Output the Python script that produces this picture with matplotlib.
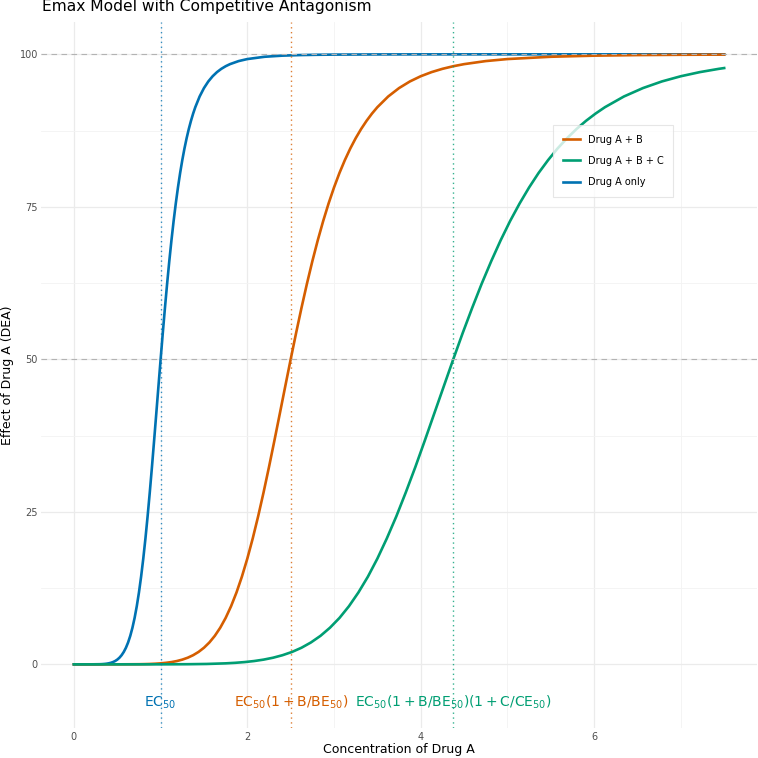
import matplotlib
matplotlib.use("Agg")
import matplotlib.pyplot as plt
from matplotlib.lines import Line2D

plt.rcParams['font.family'] = ['DejaVu Sans']
plt.rcParams['mathtext.fontset'] = 'dejavusans'

# ---- data ----
conc_a = [0, 0.2,
          0.3, 0.325, 0.35, 0.375, 0.4, 0.425, 0.45, 0.475, 0.5, 0.525, 0.55, 0.575, 0.6, 0.625,
          0.65, 0.675, 0.7, 0.725, 0.75, 0.775, 0.8, 0.825, 0.85, 0.875, 0.9, 0.925, 0.95, 0.975,
          1.0, 1.025, 1.05, 1.075, 1.1, 1.125, 1.15, 1.175, 1.2, 1.225, 1.25, 1.275, 1.3, 1.325,
          1.35, 1.375, 1.4,
          1.45, 1.5, 1.55, 1.6, 1.65, 1.7, 1.75, 1.8,
          1.9, 2.0, 2.2, 2.4, 2.6, 2.8, 3.0, 3.5, 4.0, 5.0, 6.0, 7.5]
effect_a = [0, 0.001,
            0.022, 0.038, 0.064, 0.104, 0.164, 0.250, 0.372, 0.542, 0.775, 1.087, 1.500, 2.036, 2.723, 3.591,
            4.673, 6.001, 7.609, 9.527, 11.776, 14.379, 17.336, 20.644, 24.276, 28.197, 32.354, 36.686, 41.119, 45.581,
            50.0, 54.312, 58.455, 62.392, 66.087, 69.518, 72.677, 75.563, 78.179, 80.544, 82.662, 84.563, 86.254, 87.760,
            89.094, 90.284, 91.336,
            93.092, 94.468, 95.554, 96.409, 97.085, 97.622, 98.049, 98.392,
            98.894, 99.225, 99.601, 99.782, 99.876, 99.926, 99.954, 99.984, 99.994, 99.999, 100, 100]

conc_ab = [0, 0.5,
           0.75, 0.8125, 0.875, 0.9375, 1.0, 1.0625, 1.125, 1.1875, 1.25, 1.3125, 1.375, 1.4375, 1.5, 1.5625,
           1.625, 1.6875, 1.75, 1.8125, 1.875, 1.9375, 2.0, 2.0625, 2.125, 2.1875, 2.25, 2.3125, 2.375, 2.4375,
           2.5, 2.5625, 2.625, 2.6875, 2.75, 2.8125, 2.875, 2.9375, 3.0, 3.0625, 3.125, 3.1875, 3.25, 3.3125,
           3.375, 3.4375, 3.5,
           3.625, 3.75, 3.875, 4.0, 4.125, 4.25, 4.375, 4.5,
           4.75, 5.0, 5.5, 6.0, 6.5, 7.0, 7.5]
effect_ab = [0, 0.001,
             0.022, 0.038, 0.064, 0.104, 0.164, 0.250, 0.372, 0.542, 0.775, 1.087, 1.500, 2.036, 2.723, 3.591,
             4.673, 6.001, 7.609, 9.527, 11.776, 14.379, 17.336, 20.644, 24.276, 28.197, 32.354, 36.686, 41.119, 45.581,
             50.0, 54.312, 58.455, 62.392, 66.087, 69.518, 72.677, 75.563, 78.179, 80.544, 82.662, 84.563, 86.254, 87.760,
             89.094, 90.284, 91.336,
             93.092, 94.468, 95.554, 96.409, 97.085, 97.622, 98.049, 98.392,
             98.894, 99.225, 99.601, 99.782, 99.876, 99.926, 99.954]

conc_abc = [0, 1.0, 1.3125, 1.53125,
            1.75, 1.859, 1.969, 2.078, 2.188, 2.297, 2.406, 2.516, 2.625, 2.734, 2.844, 2.953, 3.063, 3.172,
            3.281, 3.391, 3.5, 3.609, 3.719, 3.828, 3.938, 4.047, 4.156, 4.266, 4.375, 4.484, 4.594, 4.703,
            4.813, 4.922, 5.031, 5.141, 5.25, 5.359, 5.469, 5.578, 5.688, 5.797, 5.906, 6.016, 6.125,
            6.344, 6.563, 6.781, 7.0, 7.219, 7.438, 7.5]
effect_abc = [0, 0.0, 0.022, 0.064,
              0.164, 0.250, 0.372, 0.542, 0.775, 1.087, 1.500, 2.036, 2.723, 3.591, 4.673, 6.001, 7.609, 9.527,
              11.776, 14.379, 17.336, 20.644, 24.276, 28.197, 32.354, 36.686, 41.119, 45.581, 50.0, 54.312, 58.455, 62.392,
              66.087, 69.518, 72.677, 75.563, 78.179, 80.544, 82.662, 84.563, 86.254, 87.760, 89.094, 90.284, 91.336,
              93.092, 94.468, 95.554, 96.409, 97.085, 97.622, 97.75]

ec50_values = [1.0, 2.5, 4.375]
ec50_labels = [r'$\mathrm{EC}_{50}$',
               r'$\mathrm{EC}_{50}\left(1+\mathrm{B}/\mathrm{BE}_{50}\right)$',
               r'$\mathrm{EC}_{50}\left(1+\mathrm{B}/\mathrm{BE}_{50}\right)\left(1+\mathrm{C}/\mathrm{CE}_{50}\right)$']
ref_lines = [50, 100]
series_names = ['Drug A + B', 'Drug A + B + C', 'Drug A only']

c_blue = '#0072B2'
c_orange = '#D55E00'
c_green = '#009E73'

fig = plt.figure(figsize=(7.58, 7.58), dpi=100)
ax = fig.add_axes([41.4 / 758, 1 - 728.4 / 758, (756.7 - 41.4) / 758, (728.4 - 22) / 758])

ax.set_xlim(-0.375, 7.875)
ax.set_ylim(-10.5, 105.3)

# grid
for xv in [0, 2, 4, 6]:
    ax.axvline(xv, color='#ebebeb', lw=0.9, zorder=0)
for xv in [1, 3, 5, 7]:
    ax.axvline(xv, color='#f3f3f3', lw=0.6, zorder=0)
for yv in [0, 25, 50, 75, 100]:
    ax.axhline(yv, color='#ebebeb', lw=0.9, zorder=0)
for yv in [12.5, 37.5, 62.5, 87.5]:
    ax.axhline(yv, color='#f3f3f3', lw=0.6, zorder=0)

ax.plot(conc_a, effect_a, color=c_blue, lw=1.9, zorder=2, solid_joinstyle='round')
ax.plot(conc_ab, effect_ab, color=c_orange, lw=1.9, zorder=2, solid_joinstyle='round')
ax.plot(conc_abc, effect_abc, color=c_green, lw=1.9, zorder=2, solid_joinstyle='round')

for yv in ref_lines:
    ax.axhline(yv, color='#b3b3b3', lw=0.8, ls=(0, (5, 4)), zorder=3)

cols = [c_blue, c_orange, c_green]
for xv, lab, col in zip(ec50_values, ec50_labels, cols):
    ax.axvline(xv, color=col, lw=1.0, ls=(0, (1, 2.5)), alpha=0.8, zorder=3)
    ax.text(xv, -6.3, lab, color=col, fontsize=10, ha='center', va='center', zorder=4)

for s in ax.spines.values():
    s.set_visible(False)
ax.tick_params(length=0, labelsize=7, labelcolor='#4d4d4d', pad=2.5)
ax.set_xticks([0, 2, 4, 6])
ax.set_yticks([0, 25, 50, 75, 100])
ax.set_xlabel('Concentration of Drug A', fontsize=9, labelpad=1)
ax.set_ylabel('Effect of Drug A (DEA)', fontsize=9, labelpad=4)

handles = [Line2D([0], [0], color=c_orange, lw=1.9),
           Line2D([0], [0], color=c_green, lw=1.9),
           Line2D([0], [0], color=c_blue, lw=1.9)]
leg = ax.legend(handles, series_names, loc='upper left',
                bbox_to_anchor=(553 / 758, 1 - 125 / 758), bbox_transform=fig.transFigure,
                fontsize=7, frameon=True, fancybox=False, handlelength=1.8,
                borderpad=1.0, labelspacing=1.15, borderaxespad=0)
leg.get_frame().set_edgecolor('#e0e0e0')
leg.get_frame().set_linewidth(0.8)
leg.set_zorder(5)

fig.text(42 / 758, 1 - 7 / 758, 'Emax Model with Competitive Antagonism', fontsize=11.2,
         ha='left', va='center')

fig.savefig('out.png', dpi=100)
